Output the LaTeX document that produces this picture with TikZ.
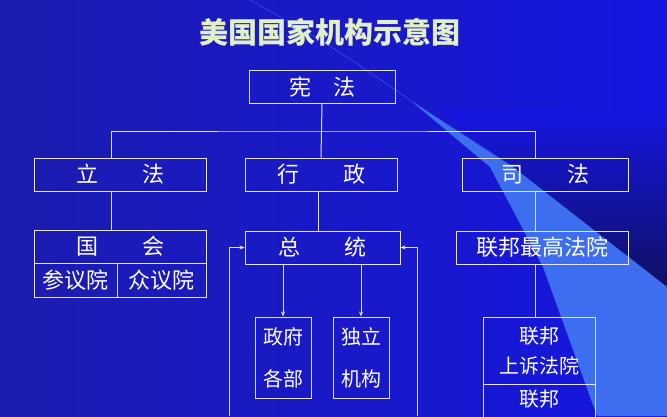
\documentclass[tikz,border=0pt]{standalone}
\usepackage{fontspec}
\newfontfamily\cjk{Noto Sans CJK SC}
\usetikzlibrary{arrows.meta}
\definecolor{bgdark}{RGB}{28,28,175}
\definecolor{bglite}{RGB}{22,22,225}
\definecolor{navy}{RGB}{16,16,100}
\definecolor{wedge}{RGB}{62,110,240}
\definecolor{titlecol}{RGB}{225,240,200}
\tikzset{every picture/.style={line width=0.75pt}}
\tikzset{
  box/.style={draw=white!90!blue, line width=1pt, minimum height=33pt, inner sep=0pt, text=white, font=\cjk\fontsize{22}{24}\selectfont},
  tallbox/.style={box, font=\cjk\fontsize{20}{42}\selectfont, align=center},
  link/.style={draw=white!90!blue, line width=1pt},
  arr/.style={link, -{Stealth[length=5pt,width=4pt]}}
}
\begin{document}
\begin{tikzpicture}[x=1pt,y=1pt,yscale=-1,xscale=1]
	\useasboundingbox (0,0) rectangle (667,416);
	%Shape: Background
	\shade [left color=bgdark, right color=bglite] (0,0) rectangle (667,416);
	%Shape: dark corner
	\shade [top color=bglite, bottom color=navy] (440,110) -- (667,110) -- (667,287) -- cycle ;
	%Shape: light wedge
	\fill [wedge] (410,100) -- (490,167) -- (543,267) -- (597,416) -- (667,416) -- (667,287) -- (513,167) -- cycle ;
	\draw [wedge!60!bglite, line width=0.6pt] (250,0) .. controls (330,45) .. (410,100);

	% Title
	\node (title) at (330,32) [text=titlecol, font=\cjk\bfseries\fontsize{29}{30}\selectfont] {美国国家机构示意图};

	% Boxes
	\node (xf) at (322,87) [box, minimum width=146pt] {宪\quad 法};
	\node (lf) at (120,174.5) [box, minimum width=172pt] {立\qquad 法};
	\node (xz) at (321,174.5) [box, minimum width=152pt] {行\qquad 政};
	\node (sf) at (545,174.5) [box, minimum width=166pt] {司\qquad 法};
	\node (gh) at (120,246.5) [box, minimum width=172pt] {国\qquad 会};
	\node (cy) at (75.5,280) [box, minimum width=83pt, minimum height=34pt] {参议院};
	\node (zy) at (161.5,280) [box, minimum width=89pt, minimum height=34pt] {众议院};
	\node (zt) at (322.5,247.5) [box, minimum width=155pt] {总\qquad 统};
	\node (zg) at (542,247.5) [box, minimum width=172pt] {联邦最高法院};
	\node (zf) at (283,357.5) [tallbox, minimum width=56pt, minimum height=81pt] {政府\\各部};
	\node (dl) at (361,357.5) [tallbox, minimum width=56pt, minimum height=81pt] {独立\\机构};
	\node (sy) at (539,350.5) [tallbox, minimum width=112pt, minimum height=67pt, font=\cjk\fontsize{20}{30}\selectfont] {联邦\\上诉法院};
	\node (lb) at (539,384) [box, minimum width=112pt, minimum height=42pt, anchor=north] {};
	\node (lbt) at (539,399) [text=white, font=\cjk\fontsize{20}{22}\selectfont] {联邦};

	% Connectors
	\coordinate (top) at (xf.south |- 0,131);
	\draw [link] (xf.south) -- (xz.north);
	\draw [link] (lf.north -| 111,0) |- (top) -| (sf.north -| 535,0);
	\draw [link] (lf.south -| 111,0) -- (gh.north -| 111,0);
	\draw [link] (xz.south -| 318,0) -- (zt.north -| 318,0);
	\draw [link] (sf.south -| 535,0) -- (zg.north -| 535,0);
	\draw [link] (zg.south -| 535,0) -- (sy.north -| 535,0);
	\draw [arr] (zt.south -| zf.north) -- (zf.north);
	\draw [arr] (zt.south -| dl.north) -- (dl.north);
	\coordinate (lb1) at (229,416);
	\coordinate (rb1) at (417,416);
	\draw [arr] (lb1) |- (zt.west);
	\draw [arr] (rb1) |- (zt.east);
\end{tikzpicture}
\end{document}
